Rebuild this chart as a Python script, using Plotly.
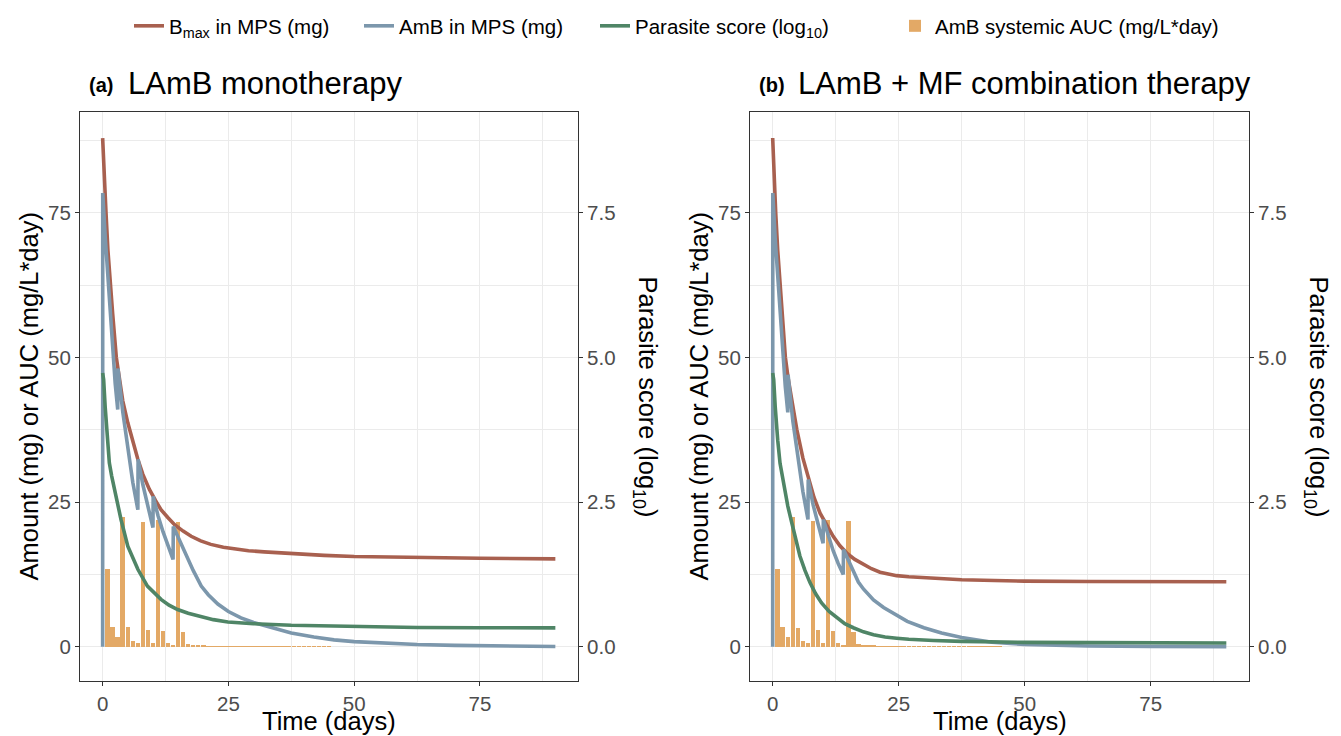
import plotly.graph_objects as go

W, H = 1341, 736

# ---------------- data ----------------
# Panel (a): LAmB monotherapy
red_a_t = [0, 0.3, 0.67, 1.05, 1.53, 2.0, 2.72, 3.3, 4.0, 5.0, 6.0, 7.0, 8.0, 9.3, 10.5, 11.6, 13.0, 14.3,
           16.0, 17.6, 19.5, 21.5, 24.0, 26.2, 29.0, 32.1, 37.5, 44.0, 50.0, 62.5, 75.0, 90.0]
red_a = [87.9, 81.0, 75.0, 68.5, 62.5, 57.5, 50.0, 46.2, 42.5, 38.7, 35.3, 32.4, 29.8, 27.2, 25.3, 23.7, 22.3, 21.1,
         20.0, 19.1, 18.3, 17.7, 17.2, 16.9, 16.6, 16.4, 16.1, 15.8, 15.6, 15.4, 15.3, 15.2]

blue_a_t = [0, 0.02, 0.5, 1.13, 1.6, 2.07, 2.5, 3.0, 3.05, 4.0, 5.0, 6.0, 7.0, 7.05, 8.0, 9.0, 10.0, 10.05,
            11.0, 12.0, 13.0, 14.0, 14.05, 15.0, 16.0, 17.0, 18.0, 19.6, 21.0, 22.9, 25.0, 27.5, 30.0, 32.5,
            35.0, 37.5, 42.0, 46.0, 50.0, 56.0, 62.5, 70.0, 75.0, 82.0, 90.0]
blue_a = [0, 78.4, 71.0, 62.5, 56.0, 50.0, 45.5, 41.0, 48.1, 40.6, 34.0, 28.4, 23.7, 32.4, 28.0, 24.0, 20.6, 26.0,
          22.7, 19.9, 17.3, 15.1, 20.8, 19.0, 16.8, 15.0, 13.2, 10.5, 9.0, 7.4, 6.1, 5.0, 4.2, 3.6,
          3.0, 2.4, 1.7, 1.2, 0.9, 0.6, 0.4, 0.25, 0.17, 0.1, 0.05]

green_a_t = [0, 0.2, 0.5, 0.8, 1.0, 1.33, 1.8, 2.33, 3.0, 3.65, 5.0, 6.0, 7.0, 8.9, 10.2, 11.6, 13.2, 14.9, 17.0,
             19.6, 22.0, 24.9, 30.0, 37.5, 50.0, 62.5, 75.0, 90.0]
green_a = [4.73, 4.62, 4.15, 3.75, 3.57, 3.18, 2.95, 2.72, 2.45, 2.20, 1.74, 1.52, 1.34, 1.05, 0.93, 0.82, 0.72, 0.645, 0.58,
           0.52, 0.47, 0.43, 0.40, 0.373, 0.346, 0.334, 0.33, 0.327]

auc_days = list(range(1, 46))
auc_a = [13.4, 3.35, 1.7, 22.4, 3.35, 1.0, 0.6, 21.6, 2.9, 0.65, 21.9, 2.8, 0.6, 0.35, 21.6, 2.6, 0.5, 0.3, 0.2, 0.15,
         0.12, 0.1, 0.09, 0.08, 0.07, 0.06, 0.055, 0.05, 0.045, 0.04, 0.037, 0.034, 0.031, 0.028, 0.025, 0.023, 0.021,
         0.019, 0.017, 0.015, 0.013, 0.012, 0.011, 0.01, 0.009]

# Panel (b): LAmB + MF combination therapy
red_b_t = [0, 0.3, 0.6, 1.0, 1.46, 2.0, 2.52, 3.1, 4.0, 4.8, 6.0, 7.1, 8.2, 9.4, 10.7, 12.0, 13.3, 14.7, 16.3,
           18.0, 19.6, 21.3, 24.6, 27.0, 31.9, 37.5, 44.0, 50.0, 62.5, 75.0, 90.0]
red_b = [87.9, 80.5, 75.0, 68.5, 62.5, 56.0, 50.0, 46.2, 41.2, 37.5, 32.6, 28.9, 25.8, 23.1, 21.0, 19.1, 17.5, 16.2, 15.1,
         14.2, 13.5, 12.9, 12.3, 12.1, 11.8, 11.6, 11.45, 11.35, 11.3, 11.25, 11.25]

blue_b_t = [0, 0.02, 0.5, 1.1, 1.6, 2.0, 2.5, 3.0, 3.05, 4.0, 5.0, 6.0, 7.0, 7.05, 8.0, 9.0, 10.0, 10.05,
            11.0, 12.0, 13.0, 14.0, 14.05, 15.0, 16.0, 17.0, 18.0, 20.0, 22.0, 24.0, 26.7, 30.0, 33.5, 37.5,
            43.5, 50.0, 56.0, 62.5, 75.0, 90.0]
blue_b = [0, 78.4, 70.5, 62.5, 55.5, 50.0, 45.0, 40.5, 47.0, 39.0, 32.4, 26.8, 22.0, 28.9, 24.6, 21.0, 17.9, 22.0,
          19.2, 16.6, 14.4, 12.5, 16.8, 15.0, 12.8, 11.2, 10.0, 8.1, 6.8, 5.8, 4.4, 3.3, 2.4, 1.6,
          0.8, 0.4, 0.25, 0.15, 0.06, 0.03]

green_b_t = [0, 0.2, 0.5, 0.8, 1.0, 1.46, 2.0, 2.45, 3.0, 3.8, 4.6, 5.4, 6.4, 7.4, 8.5, 9.7, 11.2, 12.7, 14.3, 16.0,
             18.0, 20.0, 22.3, 24.6, 27.0, 31.9, 37.5, 50.0, 62.5, 75.0, 90.0]
green_b = [4.73, 4.62, 4.15, 3.75, 3.57, 3.17, 2.88, 2.66, 2.43, 2.14, 1.84, 1.57, 1.32, 1.11, 0.92, 0.76, 0.61, 0.50, 0.40, 0.33,
           0.26, 0.21, 0.17, 0.15, 0.13, 0.11, 0.095, 0.078, 0.072, 0.067, 0.067]

auc_b = [13.4, 3.35, 1.7, 22.5, 3.3, 1.0, 0.6, 21.7, 2.9, 0.7, 22.0, 2.7, 0.6, 0.35, 21.7, 2.6, 0.5, 0.3, 0.2, 0.15,
         0.12, 0.1, 0.09, 0.08, 0.07, 0.06, 0.055, 0.05, 0.045, 0.04, 0.037, 0.034, 0.031, 0.028, 0.025, 0.023, 0.021,
         0.019, 0.017, 0.015, 0.013, 0.012, 0.011, 0.01, 0.009]

left_ticks = [0, 25, 50, 75]
right_ticks = [0, 2.5, 5.0, 7.5]
right_tick_text = ["0.0", "2.5", "5.0", "7.5"]
x_ticks = [0, 25, 50, 75]

titles = ["LAmB monotherapy", "LAmB + MF combination therapy"]
tags = ["(a)", "(b)"]
names = ["B<sub>max</sub> in MPS (mg)", "AmB in MPS (mg)", "Parasite score (log<sub>10</sub>)",
         "AmB systemic AUC (mg/L*day)"]

# ---------------- styling ----------------
RED = "#A8604F"
BLUE = "#7C97AC"
GREEN = "#4F8566"
ORANGE = "#E3A966"
FONT = "Liberation Sans, Arial, sans-serif"
GRID = "#EBEBEB"
TXT = "#4D4D4D"
LW = 3.6

panels = [
    dict(red_t=red_a_t, red=red_a, blue_t=blue_a_t, blue=blue_a, green_t=green_a_t, green=green_a, auc=auc_a),
    dict(red_t=red_b_t, red=red_b, blue_t=blue_b_t, blue=blue_b, green_t=green_b_t, green=green_b, auc=auc_b),
]

# pixel geometry
px_left = [80, 750]
px_right = [578, 1249]
py_top, py_bot = 112, 681
YMIN, YMAX = -5.9, 92.4
legend_px = [129, 359, 595, 895]   # left edge of each legend entry

fig = go.Figure()

for i, p in enumerate(panels):
    xa = "x" if i == 0 else "x2"
    ya = "y" if i == 0 else "y2"
    yr = "y3" if i == 0 else "y4"
    show = i == 0
    fig.add_trace(go.Bar(x=auc_days, y=p["auc"], width=0.9, marker=dict(color=ORANGE, line=dict(width=0)),
                         name=names[3], showlegend=show, legend="legend4", xaxis=xa, yaxis=ya))
    fig.add_trace(go.Scatter(x=p["red_t"], y=p["red"], mode="lines", line=dict(color=RED, width=LW),
                             name=names[0], showlegend=show, legend="legend", xaxis=xa, yaxis=ya))
    fig.add_trace(go.Scatter(x=p["blue_t"], y=p["blue"], mode="lines", line=dict(color=BLUE, width=LW),
                             name=names[1], showlegend=show, legend="legend2", xaxis=xa, yaxis=ya))
    fig.add_trace(go.Scatter(x=p["green_t"], y=p["green"], mode="lines", line=dict(color=GREEN, width=LW),
                             name=names[2], showlegend=show, legend="legend3", xaxis=xa, yaxis=yr))

ydom = [1 - py_bot / H, 1 - py_top / H]
TICKFONT = dict(family=FONT, size=20.5, color=TXT)
axis_common = dict(showline=True, mirror=True, linecolor="#333333", linewidth=1.1,
                   ticks="outside", ticklen=4, tickcolor="#333333", tickwidth=1,
                   tickfont=TICKFONT, zeroline=False, automargin=False)

layout = dict(width=W, height=H, margin=dict(l=0, r=0, t=0, b=0), plot_bgcolor="white", paper_bgcolor="white",
              font=dict(family=FONT, color="black"), bargap=0, barmode="overlay")

for i in range(2):
    xd = [px_left[i] / W, px_right[i] / W]
    xk = "xaxis" if i == 0 else "xaxis2"
    yk = "yaxis" if i == 0 else "yaxis2"
    rk = "yaxis3" if i == 0 else "yaxis4"
    xa = "x" if i == 0 else "x2"
    ya = "y" if i == 0 else "y2"
    layout[xk] = dict(domain=xd, anchor=ya, range=[-4.5, 94.5], tickmode="array", tickvals=x_ticks,
                      showgrid=True, gridcolor=GRID, gridwidth=1.2,
                      minor=dict(tick0=12.5, dtick=25, showgrid=True, gridcolor=GRID, gridwidth=0.6, ticks=""),
                      **axis_common)
    layout[yk] = dict(domain=ydom, anchor=xa, range=[YMIN, YMAX], tickmode="array", tickvals=left_ticks,
                      showgrid=True, gridcolor=GRID, gridwidth=1.2,
                      minor=dict(tick0=12.5, dtick=25, showgrid=True, gridcolor=GRID, gridwidth=0.6, ticks=""),
                      **axis_common)
    layout[rk] = dict(overlaying=ya, anchor=xa, side="right", range=[YMIN / 10, YMAX / 10],
                      tickmode="array", tickvals=right_ticks, ticktext=right_tick_text, showgrid=False,
                      showline=False, ticks="outside", ticklen=4, tickcolor="#333333", tickwidth=1,
                      tickfont=TICKFONT, zeroline=False, automargin=False)

legend_keys = ["legend", "legend2", "legend3", "legend4"]
for k, lx in zip(legend_keys, legend_px):
    layout[k] = dict(orientation="h", x=lx / W, xanchor="left", y=1 - 26 / H, yanchor="middle",
                     font=dict(family=FONT, size=20.5, color="black"), bgcolor="rgba(0,0,0,0)",
                     itemwidth=30)

fig.update_layout(**layout)

annotations = []
for i in range(2):
    cx = (px_left[i] + px_right[i]) / 2
    cy = (py_top + py_bot) / 2
    # panel tag & title
    annotations.append(dict(x=(px_left[i] + 7) / W, y=1 - 85 / H, xref="paper", yref="paper", text="<b>" + tags[i] + "</b>",
                            showarrow=False, xanchor="left", yanchor="middle",
                            font=dict(family=FONT, size=20, color="black")))
    annotations.append(dict(x=(px_left[i] + 46) / W, y=1 - 83 / H, xref="paper", yref="paper", text=titles[i],
                            showarrow=False, xanchor="left", yanchor="middle",
                            font=dict(family=FONT, size=31, color="black")))
    # axis titles
    annotations.append(dict(x=cx / W, y=1 - 721 / H, xref="paper", yref="paper", text="Time (days)",
                            showarrow=False, xanchor="center", yanchor="middle",
                            font=dict(family=FONT, size=25.5, color="black")))
    annotations.append(dict(x=(px_left[i] - 52) / W, y=1 - cy / H, xref="paper", yref="paper",
                            text="Amount (mg) or AUC (mg/L*day)", textangle=-90,
                            showarrow=False, xanchor="center", yanchor="middle",
                            font=dict(family=FONT, size=25.5, color="black")))
    annotations.append(dict(x=(px_right[i] + 68) / W, y=1 - cy / H, xref="paper", yref="paper",
                            text="Parasite score (log<sub>10</sub>)", textangle=90,
                            showarrow=False, xanchor="center", yanchor="middle",
                            font=dict(family=FONT, size=25.5, color="black")))

fig.update_layout(annotations=annotations)

fig.write_html("out.html", config={"displayModeBar": False},
               post_script="document.body.style.margin='0px';document.body.style.padding='0px';")
